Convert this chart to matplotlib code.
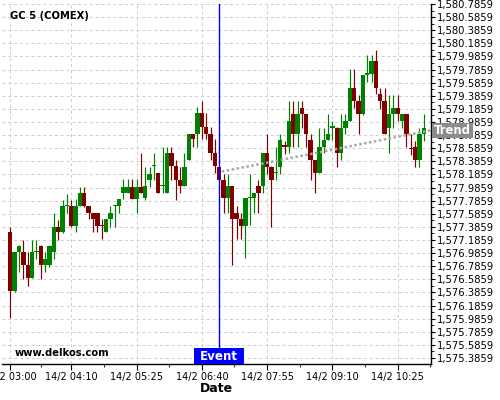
import matplotlib
matplotlib.use("Agg")
import matplotlib.pyplot as plt
import matplotlib.transforms as mtransforms
from matplotlib.patches import Rectangle
from matplotlib.ticker import FixedLocator, FuncFormatter
import numpy as np

# 5 minute candles, 14/2 03:00 .. 10:55
opens = [1577.31, 1576.41, 1577.00, 1577.00, 1576.80, 1576.60, 1577.00, 1577.10, 1576.80, 1576.80,
         1577.00, 1577.39, 1577.31, 1577.70, 1577.70, 1577.40, 1577.71, 1577.91, 1577.71, 1577.60,
         1577.60, 1577.41, 1577.31, 1577.50, 1577.70, 1577.71, 1577.91, 1577.91, 1578.00, 1577.81,
         1578.00, 1577.82, 1578.10, 1578.31, 1578.21, 1578.01, 1577.91, 1578.51, 1578.31, 1578.10,
         1578.01, 1578.41, 1578.81, 1578.81, 1579.12, 1578.91, 1578.81, 1578.51, 1578.30, 1578.10,
         1577.82, 1578.01, 1577.60, 1577.51, 1577.40, 1577.82, 1577.82, 1578.01, 1578.01, 1578.51,
         1578.30, 1578.21, 1578.30, 1578.63, 1578.61, 1579.11, 1578.80, 1579.20, 1579.11, 1578.71,
         1578.41, 1578.21, 1578.61, 1578.71, 1578.90, 1578.90, 1578.52, 1578.90, 1579.00, 1579.50,
         1579.31, 1579.11, 1579.71, 1579.72, 1579.91, 1579.41, 1579.31, 1578.90, 1579.11, 1579.20,
         1579.00, 1579.11, 1578.59, 1578.60, 1578.41, 1578.80]
highs = [1577.38, 1577.00, 1577.11, 1577.19, 1577.00, 1577.19, 1577.19, 1577.11, 1577.00, 1577.11,
         1577.59, 1577.49, 1577.80, 1577.89, 1577.80, 1577.81, 1578.00, 1578.00, 1577.71, 1577.60,
         1577.60, 1577.50, 1577.51, 1577.70, 1577.72, 1577.81, 1578.11, 1578.11, 1578.11, 1578.11,
         1578.51, 1578.30, 1578.30, 1578.51, 1578.21, 1578.60, 1578.60, 1578.60, 1578.41, 1578.30,
         1578.51, 1578.81, 1578.81, 1579.22, 1579.30, 1579.12, 1578.91, 1578.72, 1578.31, 1578.20,
         1578.20, 1578.01, 1577.70, 1577.60, 1577.82, 1578.20, 1577.90, 1578.10, 1578.51, 1578.80,
         1578.31, 1578.60, 1578.80, 1578.70, 1579.30, 1579.30, 1579.30, 1579.30, 1579.11, 1578.80,
         1578.41, 1578.90, 1578.90, 1579.11, 1579.00, 1578.91, 1579.11, 1579.11, 1579.80, 1579.80,
         1579.40, 1579.71, 1580.01, 1580.01, 1580.09, 1579.50, 1579.50, 1579.40, 1579.40, 1579.40,
         1579.11, 1579.11, 1578.80, 1578.70, 1578.90, 1579.11]
lows = [1575.99, 1576.39, 1576.70, 1576.59, 1576.49, 1576.60, 1576.90, 1576.59, 1576.69, 1576.78,
        1576.90, 1577.19, 1577.30, 1577.59, 1577.39, 1577.31, 1577.70, 1577.69, 1577.50, 1577.31,
        1577.31, 1577.20, 1577.31, 1577.39, 1577.39, 1577.60, 1577.81, 1577.91, 1577.81, 1577.60,
        1577.90, 1577.80, 1578.00, 1578.10, 1577.91, 1577.91, 1577.91, 1578.10, 1577.80, 1577.90,
        1578.01, 1578.41, 1578.60, 1578.60, 1578.72, 1578.72, 1578.41, 1578.21, 1578.09, 1577.59,
        1577.59, 1576.80, 1577.20, 1577.20, 1576.91, 1577.41, 1577.59, 1577.59, 1577.90, 1578.20,
        1577.39, 1578.10, 1578.20, 1578.50, 1578.51, 1578.61, 1578.61, 1578.90, 1578.60, 1578.10,
        1577.90, 1578.21, 1578.51, 1578.71, 1578.71, 1578.30, 1578.41, 1578.80, 1579.00, 1579.20,
        1578.80, 1579.10, 1579.60, 1579.60, 1579.41, 1579.19, 1578.80, 1578.51, 1578.90, 1579.00,
        1578.90, 1578.60, 1578.48, 1578.30, 1578.30, 1578.70]
closes = [1576.41, 1577.00, 1577.10, 1576.80, 1576.60, 1577.00, 1577.02, 1576.80, 1576.90, 1577.10,
          1577.39, 1577.31, 1577.70, 1577.72, 1577.40, 1577.71, 1577.91, 1577.71, 1577.60, 1577.50,
          1577.40, 1577.40, 1577.50, 1577.60, 1577.72, 1577.81, 1578.00, 1578.00, 1577.81, 1578.00,
          1577.91, 1578.01, 1578.20, 1578.32, 1577.91, 1578.03, 1578.51, 1578.31, 1578.10, 1578.01,
          1578.30, 1578.81, 1578.72, 1579.12, 1578.91, 1578.81, 1578.51, 1578.31, 1578.10, 1577.82,
          1578.01, 1577.51, 1577.51, 1577.40, 1577.82, 1577.83, 1577.90, 1577.90, 1578.51, 1578.30,
          1578.10, 1578.23, 1578.71, 1578.61, 1579.00, 1578.80, 1579.11, 1579.11, 1578.80, 1578.41,
          1578.21, 1578.60, 1578.71, 1578.80, 1578.92, 1578.52, 1578.90, 1579.00, 1579.50, 1579.31,
          1579.11, 1579.70, 1579.73, 1579.91, 1579.50, 1579.31, 1578.80, 1579.11, 1579.20, 1579.11,
          1579.11, 1578.80, 1578.57, 1578.41, 1578.80, 1578.90]

tick_pos = [0, 14, 29, 44, 59, 74, 89]
tick_labels = ["14/2 03:00", "14/2 04:10", "14/2 05:25", "14/2 06:40",
               "14/2 07:55", "14/2 09:10", "14/2 10:25"]
price_ticks = np.arange(1575.3859, 1580.80, 0.2)

event_idx = 48
trend_x = [48.6, 96.65]
trend_y = [1578.23, 1578.86]

GREEN = "#008000"
RED = "#800000"

o = np.array(opens)
c = np.array(closes)
idx = np.arange(len(o))
cols = [GREEN if cc >= oo else RED for oo, cc in zip(o, c)]
body_low = np.minimum(o, c)
body_h = np.maximum(np.abs(c - o), 0.015)

fig = plt.figure(figsize=(5, 4), dpi=100)
ax = fig.add_axes([0.004, 0.09, 0.858, 0.90])

ax.vlines(idx, lows, highs, colors=cols, linewidth=0.85, zorder=3)
ax.bar(idx, body_h, bottom=body_low, width=1.0, color=cols, linewidth=0, zorder=4)

ax.set_xlim(-1.907, 96.65)
ax.set_ylim(1575.294, 1580.786)

# y axis on the right
ax.yaxis.tick_right()
ax.yaxis.set_major_locator(FixedLocator(price_ticks))
ax.yaxis.set_minor_locator(FixedLocator(price_ticks[:-1] + 0.1))
ax.yaxis.set_major_formatter(FuncFormatter(lambda v, p: f"{v:,.4f}"))
ax.tick_params(axis="y", which="major", labelsize=7.2, length=3, pad=1)
ax.tick_params(axis="y", which="minor", length=2)

ax.xaxis.set_major_locator(FixedLocator(tick_pos))
ax.xaxis.set_minor_locator(FixedLocator([7, 21.5, 36.5, 51.5, 66.5, 81.5, 96.5]))
ax.set_xticklabels(tick_labels)
ax.tick_params(axis="x", which="major", labelsize=7, length=4, pad=2)
ax.tick_params(axis="x", which="minor", length=2.5)

ax.grid(True, which="major", linestyle=(0, (3, 3)), color="#cccccc", linewidth=0.7)
ax.set_axisbelow(True)
for s in ["left", "top"]:
    ax.spines[s].set_visible(False)
ax.spines["bottom"].set_linewidth(1.0)
ax.spines["right"].set_linewidth(1.0)

# event marker
ax.axvline(event_idx, color="#0000ff", linewidth=1.0, zorder=5)
blend_x = mtransforms.blended_transform_factory(ax.transData, ax.transAxes)
ax.add_patch(Rectangle((event_idx - 5.74, 0), 11.48, 16 / 360, transform=blend_x,
                       facecolor="#0000ff", edgecolor="none", zorder=6, clip_on=False))
ax.text(event_idx, 8 / 360, "Event", transform=blend_x, color="white", fontsize=8.6,
        fontweight="bold", ha="center", va="center", zorder=7)

# trend line and label
ax.plot(trend_x, trend_y, color="#a8a8a8", linewidth=1.8, linestyle=(0, (1, 1)), zorder=5)
blend_y = mtransforms.blended_transform_factory(ax.transAxes, ax.transData)
ax.add_patch(Rectangle((1.002, trend_y[-1] - 0.114), 0.096, 0.228, transform=blend_y,
                       facecolor="#8c8c8c", edgecolor="none", zorder=10, clip_on=False))
ax.text(1.05, trend_y[-1], "Trend", transform=blend_y, color="white", fontsize=8.4,
        fontweight="bold", ha="center", va="center", zorder=11, clip_on=False)

fig.text(10 / 500, 1 - 15.7 / 400, "GC 5 (COMEX)", fontsize=7.2, fontweight="bold",
         ha="left", va="center")
fig.text(15 / 500, 1 - 353.5 / 400, "www.delkos.com", fontsize=7.2, fontweight="bold",
         ha="left", va="center")
fig.text(216.5 / 500, 1 - 389 / 400, "Date", fontsize=9, fontweight="bold",
         ha="center", va="center")

fig.savefig("out.png", dpi=100)
